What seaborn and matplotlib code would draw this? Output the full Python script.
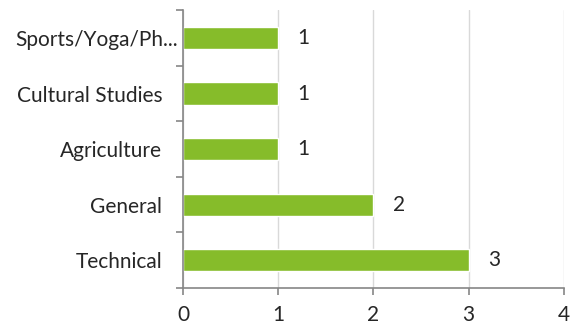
import matplotlib
matplotlib.use("Agg")
import matplotlib.pyplot as plt
import matplotlib.transforms as mtransforms
import seaborn as sns
import pandas as pd
import numpy as np

categories = ["Sports/Yoga/Ph...", "Cultural Studies", "Agriculture", "General", "Technical"]
values = [1, 1, 1, 2, 3]
xticks = [0, 1, 2, 3, 4]

sns.set_theme(style="white")
plt.rcParams['font.family'] = ['Lato', 'DejaVu Sans']

df = pd.DataFrame({"category": categories, "value": values})

fig = plt.figure(figsize=(5.7, 3.27), dpi=100)
ax = fig.add_axes([0.321, 0.119, 0.668, 0.850])
sns.barplot(data=df, y="category", x="value", order=categories, orient="h",
            color="#86bc2a", saturation=1, width=0.4, ax=ax)

ax.set_xlim(0, 4)
ax.set_ylim(len(categories) - 0.5, -0.5)
ax.set_xticks(xticks)
ax.set_xticklabels([str(t) for t in xticks])
ax.grid(axis="x", color="#d9d9d9", linewidth=1)
ax.set_axisbelow(True)
for s in ["top", "right"]:
    ax.spines[s].set_visible(False)
for s in ["left", "bottom"]:
    ax.spines[s].set_color("#868686")
    ax.spines[s].set_linewidth(1.2)

fs = 15
ax.set_xlabel("")
ax.set_ylabel("")
ax.tick_params(axis="y", which="major", left=False, length=0, pad=15, labelsize=fs, labelcolor="#262626")
ax.set_yticks(np.arange(-0.5, len(categories), 1), minor=True)
ax.tick_params(axis="y", which="minor", left=True, length=5, color="#868686", width=1.2, direction="out")
ax.tick_params(axis="x", which="major", bottom=True, length=5, color="#868686", width=1.2, direction="out",
               pad=7, labelsize=fs, labelcolor="#262626")

# truncated label sits closer to the axis, as in the reference
lbl = ax.get_yticklabels()[0]
lbl.set_transform(lbl.get_transform() + mtransforms.ScaledTranslation(0.16, 0, fig.dpi_scale_trans))

for c in ax.containers:
    ax.bar_label(c, labels=[str(v) for v in values], padding=14, fontsize=fs, color="#262626")

fig.savefig("out.png", dpi=100)
